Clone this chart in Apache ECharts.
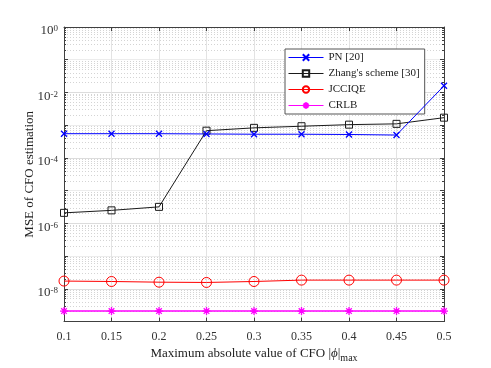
<!DOCTYPE html>
<html>
<head>
<meta charset="utf-8">
<script src="https://cdn.jsdelivr.net/npm/echarts@6/dist/echarts.min.js"></script>
<style>
  html, body { margin: 0; padding: 0; background: #fff; }
  #main { width: 491px; height: 368px; }
</style>
</head>
<body>
<div id="main"></div>
<script>
// x values: maximum absolute CFO
const cfoMax = [0.1, 0.15, 0.2, 0.25, 0.3, 0.35, 0.4, 0.45, 0.5];

// MSE values
const pnMse = [5.5e-4, 5.5e-4, 5.5e-4, 5.4e-4, 5.3e-4, 5.3e-4, 5.2e-4, 5.0e-4, 1.6e-2];
const zhangMse = [2.1e-6, 2.5e-6, 3.2e-6, 6.8e-4, 8.3e-4, 9.3e-4, 1.04e-3, 1.1e-3, 1.7e-3];
const jcciqeMse = [1.73e-8, 1.68e-8, 1.6e-8, 1.57e-8, 1.68e-8, 1.85e-8, 1.85e-8, 1.85e-8, 1.85e-8];
const crlbMse = [2.1e-9, 2.1e-9, 2.1e-9, 2.1e-9, 2.1e-9, 2.1e-9, 2.1e-9, 2.1e-9, 2.1e-9];

const seriesNames = ['PN [20]', "Zhang's scheme [30]", 'JCCIQE', 'CRLB'];

const font = 'Liberation Serif, Times New Roman, serif';
const axisColor = '#404040';

const xMark = 'path://M0,0L10,10M10,0L0,10';
const starMark = 'path://M5,0L5,10M0,5L10,5M1.5,1.5L8.5,8.5M8.5,1.5L1.5,8.5';

const pairs = (ys) => cfoMax.map((x, i) => [x, ys[i]]);

const chart = echarts.init(document.getElementById('main'));

chart.setOption({
  animation: false,
  backgroundColor: '#fff',
  grid: { left: 64, right: 47, top: 27, bottom: 41 },
  legend: {
    orient: 'vertical',
    left: 285,
    top: 49,
    padding: [3, 5, 3, 3],
    itemGap: 5,
    itemWidth: 35,
    itemHeight: 8,
    backgroundColor: '#fff',
    borderColor: '#555',
    borderWidth: 1,
    lineStyle: { width: 1 },
    textStyle: { fontFamily: font, fontSize: 11, color: '#222' },
    data: seriesNames
  },
  xAxis: [{
    type: 'value',
    min: 0.1,
    max: 0.5,
    interval: 0.05,
    name: 'Maximum absolute value of CFO |{i|ϕ}|{sub|max}',
    nameLocation: 'middle',
    nameGap: 21,
    nameTextStyle: {
      fontFamily: font, fontSize: 13, color: '#222',
      rich: {
        i: { fontFamily: font, fontSize: 13, fontStyle: 'italic', color: '#222' },
        sub: { fontFamily: font, fontSize: 10, color: '#222', verticalAlign: 'bottom', padding: [8, 0, 0, 0] }
      }
    },
    axisLine: { lineStyle: { color: axisColor } },
    axisTick: { inside: true, length: 4, lineStyle: { color: axisColor } },
    axisLabel: { fontFamily: font, fontSize: 12, color: '#333', margin: 9,
      formatter: (v) => String(Math.round(v * 100) / 100) },
    splitLine: { show: true, lineStyle: { color: '#e3e3e3', width: 1 } }
  }, {
    type: 'value',
    position: 'top',
    min: 0.1,
    max: 0.5,
    interval: 0.05,
    axisLine: { show: true, lineStyle: { color: axisColor } },
    axisTick: { inside: true, length: 4, lineStyle: { color: axisColor } },
    axisLabel: { show: false },
    splitLine: { show: false }
  }],
  yAxis: [{
    type: 'log',
    logBase: 10,
    min: 1e-9,
    max: 1,
    interval: 1,
    name: 'MSE of CFO estimation',
    nameLocation: 'middle',
    nameGap: 28,
    nameMoveOverlap: false,
    nameTextStyle: { fontFamily: font, fontSize: 13, color: '#222' },
    axisLine: { show: true, lineStyle: { color: axisColor } },
    axisTick: { inside: true, length: 4, lineStyle: { color: axisColor } },
    minorTick: { show: true, splitNumber: 9, length: 2, lineStyle: { color: axisColor } },
    axisLabel: {
      margin: 6,
      padding: [8, 0, 0, 0],
      formatter: (v) => {
        const e = Math.round(Math.log10(v));
        if (e % 2 !== 0) return '';
        return '{b|10}{sup|' + e + '}';
      },
      rich: {
        b: { fontFamily: font, fontSize: 13, color: '#333', lineHeight: 13, verticalAlign: 'bottom', padding: [4, 0, 0, 0] },
        sup: { fontFamily: font, fontSize: 9, color: '#333', lineHeight: 12, verticalAlign: 'top' }
      }
    },
    splitLine: { show: true, lineStyle: { color: ['#ececec', '#dcdcdc'], width: 1 } },
    minorSplitLine: { show: true, lineStyle: { color: '#d4d4d4', type: [1, 2], width: 1 } }
  }, {
    type: 'log',
    logBase: 10,
    min: 1e-9,
    max: 1,
    interval: 1,
    position: 'right',
    axisLine: { show: true, lineStyle: { color: axisColor } },
    axisTick: { inside: true, length: 4, lineStyle: { color: axisColor } },
    minorTick: { show: true, splitNumber: 9, length: 2, lineStyle: { color: axisColor } },
    axisLabel: { show: false },
    splitLine: { show: false }
  }],
  series: [{
    name: seriesNames[0],
    type: 'line',
    data: pairs(pnMse),
    symbol: xMark,
    symbolSize: 6,
    lineStyle: { color: '#0000ff', width: 1 },
    itemStyle: { color: '#0000ff', borderColor: '#0000ff', borderWidth: 1.3 },
    z: 4
  }, {
    name: seriesNames[1],
    type: 'line',
    data: pairs(zhangMse),
    symbol: 'rect',
    symbolSize: 7,
    lineStyle: { color: '#1a1a1a', width: 1 },
    itemStyle: { color: 'rgba(255,255,255,0)', borderColor: '#1a1a1a', borderWidth: 1 },
    z: 3
  }, {
    name: seriesNames[2],
    type: 'line',
    data: pairs(jcciqeMse),
    symbol: 'circle',
    symbolSize: 10,
    lineStyle: { color: '#ff0000', width: 1 },
    itemStyle: { color: 'rgba(255,255,255,0)', borderColor: '#ff0000', borderWidth: 1 },
    z: 3
  }, {
    name: seriesNames[3],
    type: 'line',
    data: pairs(crlbMse),
    symbol: starMark,
    symbolSize: 8,
    lineStyle: { color: '#ff00ff', width: 1.5 },
    itemStyle: { color: '#ff00ff', borderColor: '#ff00ff', borderWidth: 1.3 },
    z: 3
  }]
});
</script>
</body>
</html>
